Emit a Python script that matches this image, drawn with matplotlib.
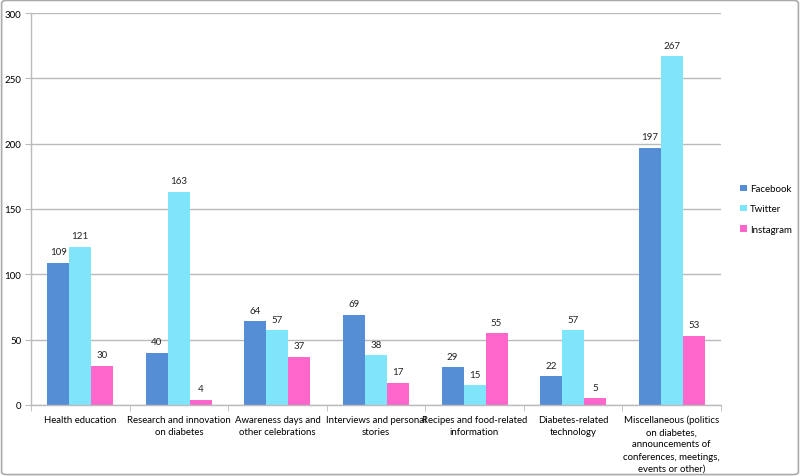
import numpy as np
import matplotlib.pyplot as plt
from matplotlib.patches import FancyBboxPatch

categories = ['Health education', 'Research and innovation\non diabetes',
              'Awareness days and\nother celebrations', 'Interviews and personal\nstories',
              'Recipes and food-related\ninformation', 'Diabetes-related\ntechnology',
              'Miscellaneous (politics\non diabetes,\nannouncements of\nconferences, meetings,\nevents or other)']
facebook = [109, 40, 64, 69, 29, 22, 197]
twitter = [121, 163, 57, 38, 15, 57, 267]
instagram = [30, 4, 37, 17, 55, 5, 53]
series = ['Facebook', 'Twitter', 'Instagram']
colors = ['#558ED5', '#7FE5FB', '#FF66CC']

plt.rcParams['font.family'] = ['Lato', 'DejaVu Sans']

fig = plt.figure(figsize=(8, 4.77), dpi=100)
ax = fig.add_axes([0.03875, 0.149, 0.8625, 0.8215])

x = np.arange(len(categories))
w = 0.223
for i, (vals, name, c) in enumerate(zip([facebook, twitter, instagram], series, colors)):
    pos = x + (i - 1) * w
    ax.bar(pos, vals, w, color=c, label=name, zorder=2)
    for p, v in zip(pos, vals):
        ax.text(p, v + 5, str(v), ha='center', va='bottom', fontsize=7, color='#222222')

ax.set_xlim(-0.5, len(categories) - 0.5)
ax.set_ylim(0, 300)
ax.set_yticks(range(0, 301, 50))
ax.yaxis.grid(True, color='#BBBBBB', linewidth=1, zorder=0)
ax.set_xticks(x)
ax.set_xticklabels(categories, fontsize=6.9, linespacing=1.45)
ax.set_xticks(np.arange(-0.5, len(categories)), minor=True)
ax.tick_params(axis='x', which='major', length=0, pad=7)
ax.tick_params(axis='x', which='minor', length=4, color='#BBBBBB')
ax.tick_params(axis='y', length=4, color='#BBBBBB', labelsize=7, pad=3)
for s in ['top', 'right']:
    ax.spines[s].set_visible(False)
for s in ['left', 'bottom']:
    ax.spines[s].set_color('#BBBBBB')
    ax.spines[s].set_linewidth(1)

ax.legend(loc='center left', bbox_to_anchor=(1.022, 0.5), borderaxespad=0, frameon=False, fontsize=7,
          handlelength=0.7, handleheight=0.7, handletextpad=0.3, labelspacing=1.15)

frame = FancyBboxPatch((0.002, 0.003), 0.996, 0.994, boxstyle='round,pad=0,rounding_size=0.006',
                       transform=fig.transFigure, fill=False, edgecolor='#AAAAAA', linewidth=1.2)
fig.patches.append(frame)

fig.savefig('out.png', dpi=100)
